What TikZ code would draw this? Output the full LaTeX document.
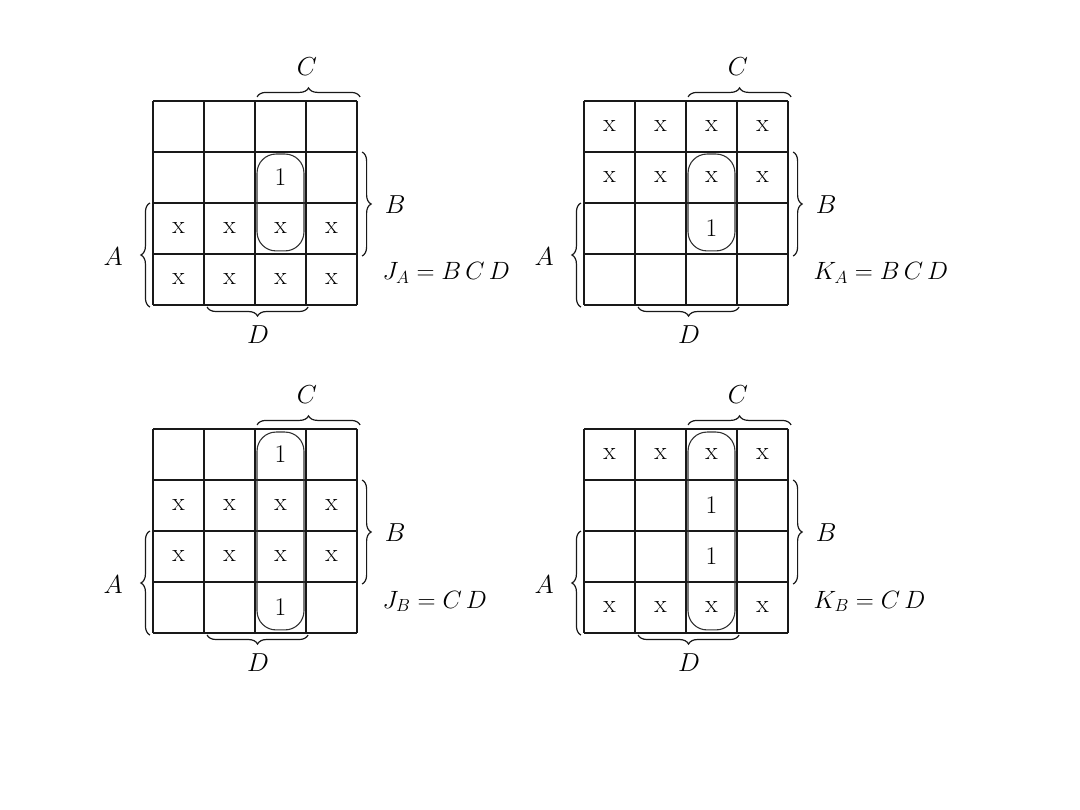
\RequirePackage{fix-cm}
\documentclass[tikz,border=0pt]{standalone}
\usetikzlibrary{decorations.pathreplacing}
\tikzset{
  gridline/.style={line width=1.3pt, draw=black!90},
  loopline/.style={line width=1.1pt, draw=black!80, rounded corners=19pt},
  bracestyle/.style={decorate, decoration={brace, amplitude=9pt}, line width=1.2pt, draw=black!90},
  cell/.style={font=\fontsize{25.5}{30}\selectfont, inner sep=0pt},
  lab/.style={font=\fontsize{26}{30}\selectfont, inner sep=0pt},
  eqn/.style={font=\fontsize{25}{30}\selectfont, inner sep=0pt, anchor=base west},
}
\newcommand\kframe[1]{%
  \foreach \i in {0,...,4} {
    \draw[gridline] (\i,0) -- (\i,4);
    \draw[gridline] (0,\i) -- (4,\i);
  }
  \draw[bracestyle] (2.04,4.08) -- (4.06,4.08);
  \node[lab] (#1C) at (3.02,4.67) {$C$};
  \draw[bracestyle] (4.1,3.0) -- (4.1,0.96);
  \node[lab] (#1B) at (4.75,1.96) {$B$};
  \draw[bracestyle] (-0.06,-0.04) -- (-0.06,2.0);
  \node[lab] (#1A) at (-0.78,0.94) {$A$};
  \draw[bracestyle] (3.04,-0.04) -- (1.06,-0.04);
  \node[lab] (#1D) at (2.06,-0.59) {$D$};
}
\newcommand\xrow[2]{%
  \node[cell] (#1a) at (0.5,#2) {x};
  \node[cell] (#1b) at (1.5,#2) {x};
  \node[cell] (#1c) at (2.5,#2) {x};
  \node[cell] (#1d) at (3.5,#2) {x};
}
\begin{document}
\begin{tikzpicture}
\fill[white] (0,0) rectangle (1080pt,810pt);
\useasboundingbox (0,0) rectangle (1080pt,810pt);

% Map 1: J_A
\begin{scope}[x=51pt, y=51pt, shift={(153pt,505pt)}]
  \kframe{m1}
  \node[cell] (m1r2c3) at (2.5,2.5) {1};
  \xrow{m1r3}{1.5}
  \xrow{m1r4}{0.5}
  \draw[loopline] (2.04,1.06) rectangle (2.96,2.96);
  \node[eqn] (m1eq) at (4.5,0.49) {$J_A = B\,C\,D$};
\end{scope}

% Map 2: K_A
\begin{scope}[x=51pt, y=51pt, shift={(584pt,505pt)}]
  \kframe{m2}
  \xrow{m2r1}{3.5}
  \xrow{m2r2}{2.5}
  \node[cell] (m2r3c3) at (2.5,1.5) {1};
  \draw[loopline] (2.04,1.06) rectangle (2.96,2.96);
  \node[eqn] (m2eq) at (4.5,0.49) {$K_A = B\,C\,D$};
\end{scope}

% Map 3: J_B
\begin{scope}[x=51pt, y=51pt, shift={(153pt,177pt)}]
  \kframe{m3}
  \node[cell] (m3r1c3) at (2.5,3.5) {1};
  \xrow{m3r2}{2.5}
  \xrow{m3r3}{1.5}
  \node[cell] (m3r4c3) at (2.5,0.5) {1};
  \draw[loopline] (2.04,0.06) rectangle (2.96,3.94);
  \node[eqn] (m3eq) at (4.5,0.49) {$J_B = C\,D$};
\end{scope}

% Map 4: K_B
\begin{scope}[x=51pt, y=51pt, shift={(584pt,177pt)}]
  \kframe{m4}
  \xrow{m4r1}{3.5}
  \node[cell] (m4r2c3) at (2.5,2.5) {1};
  \node[cell] (m4r3c3) at (2.5,1.5) {1};
  \xrow{m4r4}{0.5}
  \draw[loopline] (2.04,0.06) rectangle (2.96,3.94);
  \node[eqn] (m4eq) at (4.5,0.49) {$K_B = C\,D$};
\end{scope}
\end{tikzpicture}
\end{document}
